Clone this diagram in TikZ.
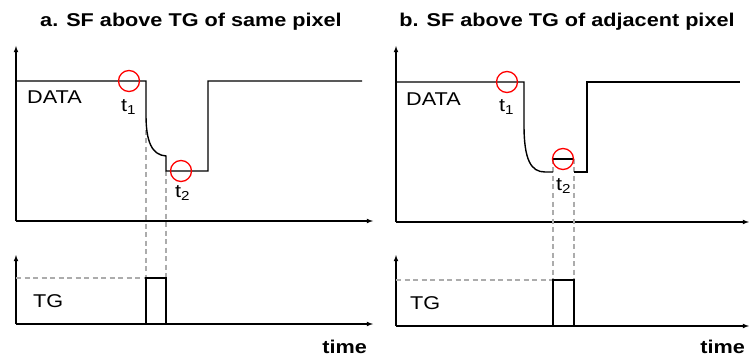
\documentclass[tikz,border=0pt]{standalone}
\usepackage{graphicx}
\usepackage{fontspec}
\setmainfont{Liberation Sans}
\newcommand\widetext[1]{\scalebox{1.17}[1]{#1}}

\begin{document}
\begin{tikzpicture}[x=1pt,y=-1pt,
	axis/.style={->,>=latex,line width=1.1pt},
	sig/.style={line width=1.4pt},
	guide/.style={draw=gray!65,line width=1.1pt,dash pattern=on 5pt off 3.5pt},
	ring/.style={draw=red,line width=1.3pt,circle,minimum size=21pt,inner sep=0pt},
	lbl/.style={inner sep=0pt,font=\fontsize{18.5}{21}\selectfont},
	ttl/.style={inner sep=0pt,font=\bfseries\fontsize{18.5}{21}\selectfont}]
	\useasboundingbox (0,0) rectangle (749,358);
	% axes of both panels
	\foreach \px/\ex/\ux/\lx in {16/373/221/324, 396/749/222/326}{
		\draw[axis] (\px,\ux) -- (\px,46);
		\draw[axis] (\px,\ux) -- (\ex,\ux);
		\draw[axis] (\px,\lx) -- (\px,255);
		\draw[axis] (\px,\lx) -- (\ex,\lx);
	}
	% panel a
	\node[ttl,anchor=base] (atitle) at (191,27) {\widetext{a. SF above TG of same pixel}};
	\coordinate (afall) at (146,81);
	\coordinate (arise) at (166,278);
	\draw[guide] (146,130) -- (146,278);
	\draw[guide] (166,171) -- (arise);
	\draw[guide] (16,278) -- (146,278);
	\draw[sig] (16,81) -- (afall) -- (146,115) .. controls (146,142) and (152,155) .. (166,156)
		-- (166,171) -- (208,171) -- (208,81) -- (362,81);
	\draw[sig] (146,324) -- (146,278) -- (arise) -- (166,324);
	\node[ring] (at1) at (129,81) {};
	\node[ring] (at2) at (181,171) {};
	\node[lbl,anchor=base west] (adata) at (27,104) {\widetext{DATA}};
	\node[lbl,anchor=base west] (atg) at (33,307) {\widetext{TG}};
	\node[lbl,anchor=base west] (at1lbl) at (121,112) {\widetext{t\textsubscript{1}}};
	\node[lbl,anchor=base west] (at2lbl) at (175,197) {\widetext{t\textsubscript{2}}};
	\node[ttl,anchor=base east] (atime) at (367,353) {\widetext{time}};
	% panel b
	\node[ttl,anchor=base] (btitle) at (567,27) {\widetext{b. SF above TG of adjacent pixel}};
	\coordinate (bfall) at (524,82);
	\coordinate (brise) at (574,280);
	\draw[guide] (553,159) -- (553,280);
	\draw[guide] (574,159) -- (brise);
	\draw[guide] (396,280) -- (553,280);
	\draw[sig] (396,82) -- (bfall) -- (524,125) .. controls (524,160) and (531,172) .. (545,172) -- (553,172);
	\draw[sig] (553,159) -- (574,159);
	\draw[sig] (574,172) -- (587,172) -- (587,82) -- (740,82);
	\draw[sig] (553,326) -- (553,280) -- (brise) -- (574,326);
	\node[ring] (bt1) at (507,82) {};
	\node[ring] (bt2) at (563,159) {};
	\node[lbl,anchor=base west] (bdata) at (406,106) {\widetext{DATA}};
	\node[lbl,anchor=base west] (btg) at (410,309) {\widetext{TG}};
	\node[lbl,anchor=base west] (bt1lbl) at (499,112) {\widetext{t\textsubscript{1}}};
	\node[lbl,anchor=base west] (bt2lbl) at (556,190) {\widetext{t\textsubscript{2}}};
	\node[ttl,anchor=base east] (btime) at (745,353) {\widetext{time}};
\end{tikzpicture}
\end{document}
